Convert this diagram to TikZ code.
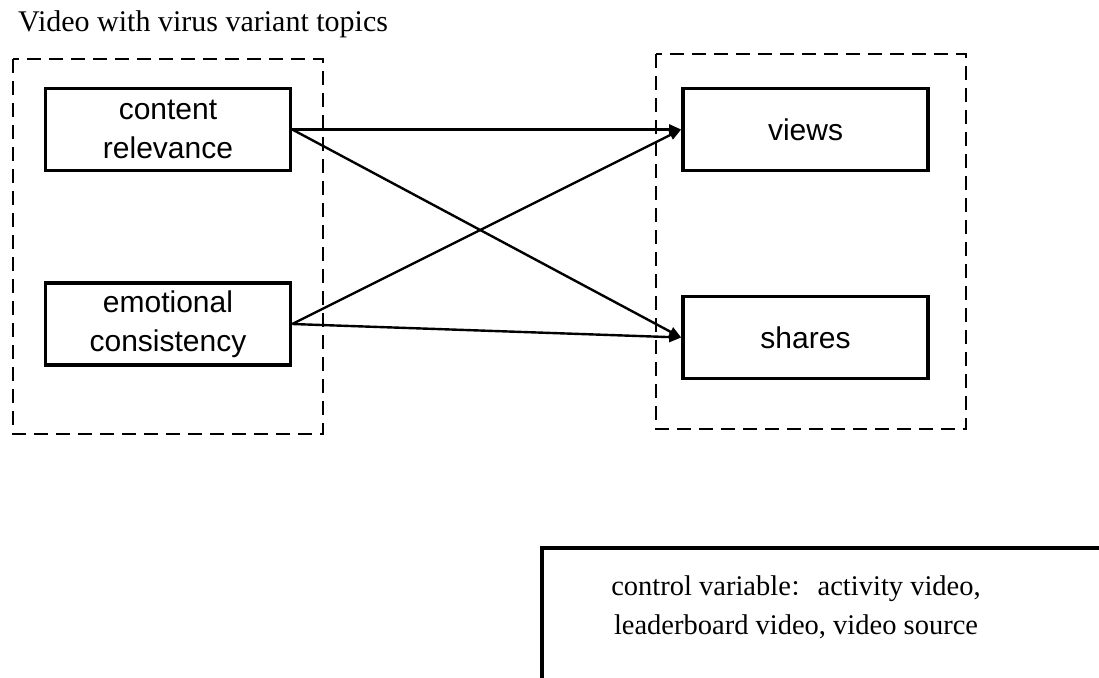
\documentclass[tikz,border=0pt]{standalone}
\usepackage{fontspec}
\setmainfont{Liberation Serif}
\setsansfont{Liberation Sans}
\newfontfamily\cjk{Noto Sans CJK SC}
\usepackage{tikz}
\usetikzlibrary{arrows.meta,positioning}
\tikzset{
  >={Triangle[length=12pt,width=10pt]},
  vbox/.style={draw,line width=3.6pt,minimum width=245pt,minimum height=82pt,
               align=center,inner sep=0pt,font=\sffamily\fontsize{30}{39}\selectfont},
  grp/.style={draw,line width=2.8pt,dash pattern=on 14pt off 8pt},
  frame/.style={draw,line width=3.6pt},
  link/.style={->,line width=2.4pt},
  serif/.style={font=\fontsize{#1}{39}\selectfont,align=center,inner sep=0pt},
}

\begin{document}
\begin{tikzpicture}[x=1pt,y=-1pt]
\useasboundingbox (0,0) rectangle (1099,677);
\clip (0,0) rectangle (1099,677);

\node[serif=30,anchor=base west] (title) at (18,32) {Video with virus variant topics};

\node[vbox] (cr) at (168,129.5) {content\\relevance};
\node[vbox] (ec) at (168,324) {emotional\\consistency};
\node[vbox] (vw) at (805.5,129.5) {views};
\node[vbox] (sh) at (805.5,337.5) {shares};

\draw[grp] (13,59) rectangle (323,434);
\draw[grp] (656,54) rectangle (966,429);

\foreach \a/\b in {cr/vw,cr/sh,ec/vw,ec/sh}
  \draw[link] (\a.east) -- (\b.west);

% control variables, cut off by the page edge
\draw[frame] (542,548) rectangle (1120,700);
\node[serif=28.5] (ctrl) at (796,607) {control variable{\cjk\fontsize{22}{39}\selectfont ：}\,activity video,\\leaderboard video, video source};

\end{tikzpicture}
\end{document}
